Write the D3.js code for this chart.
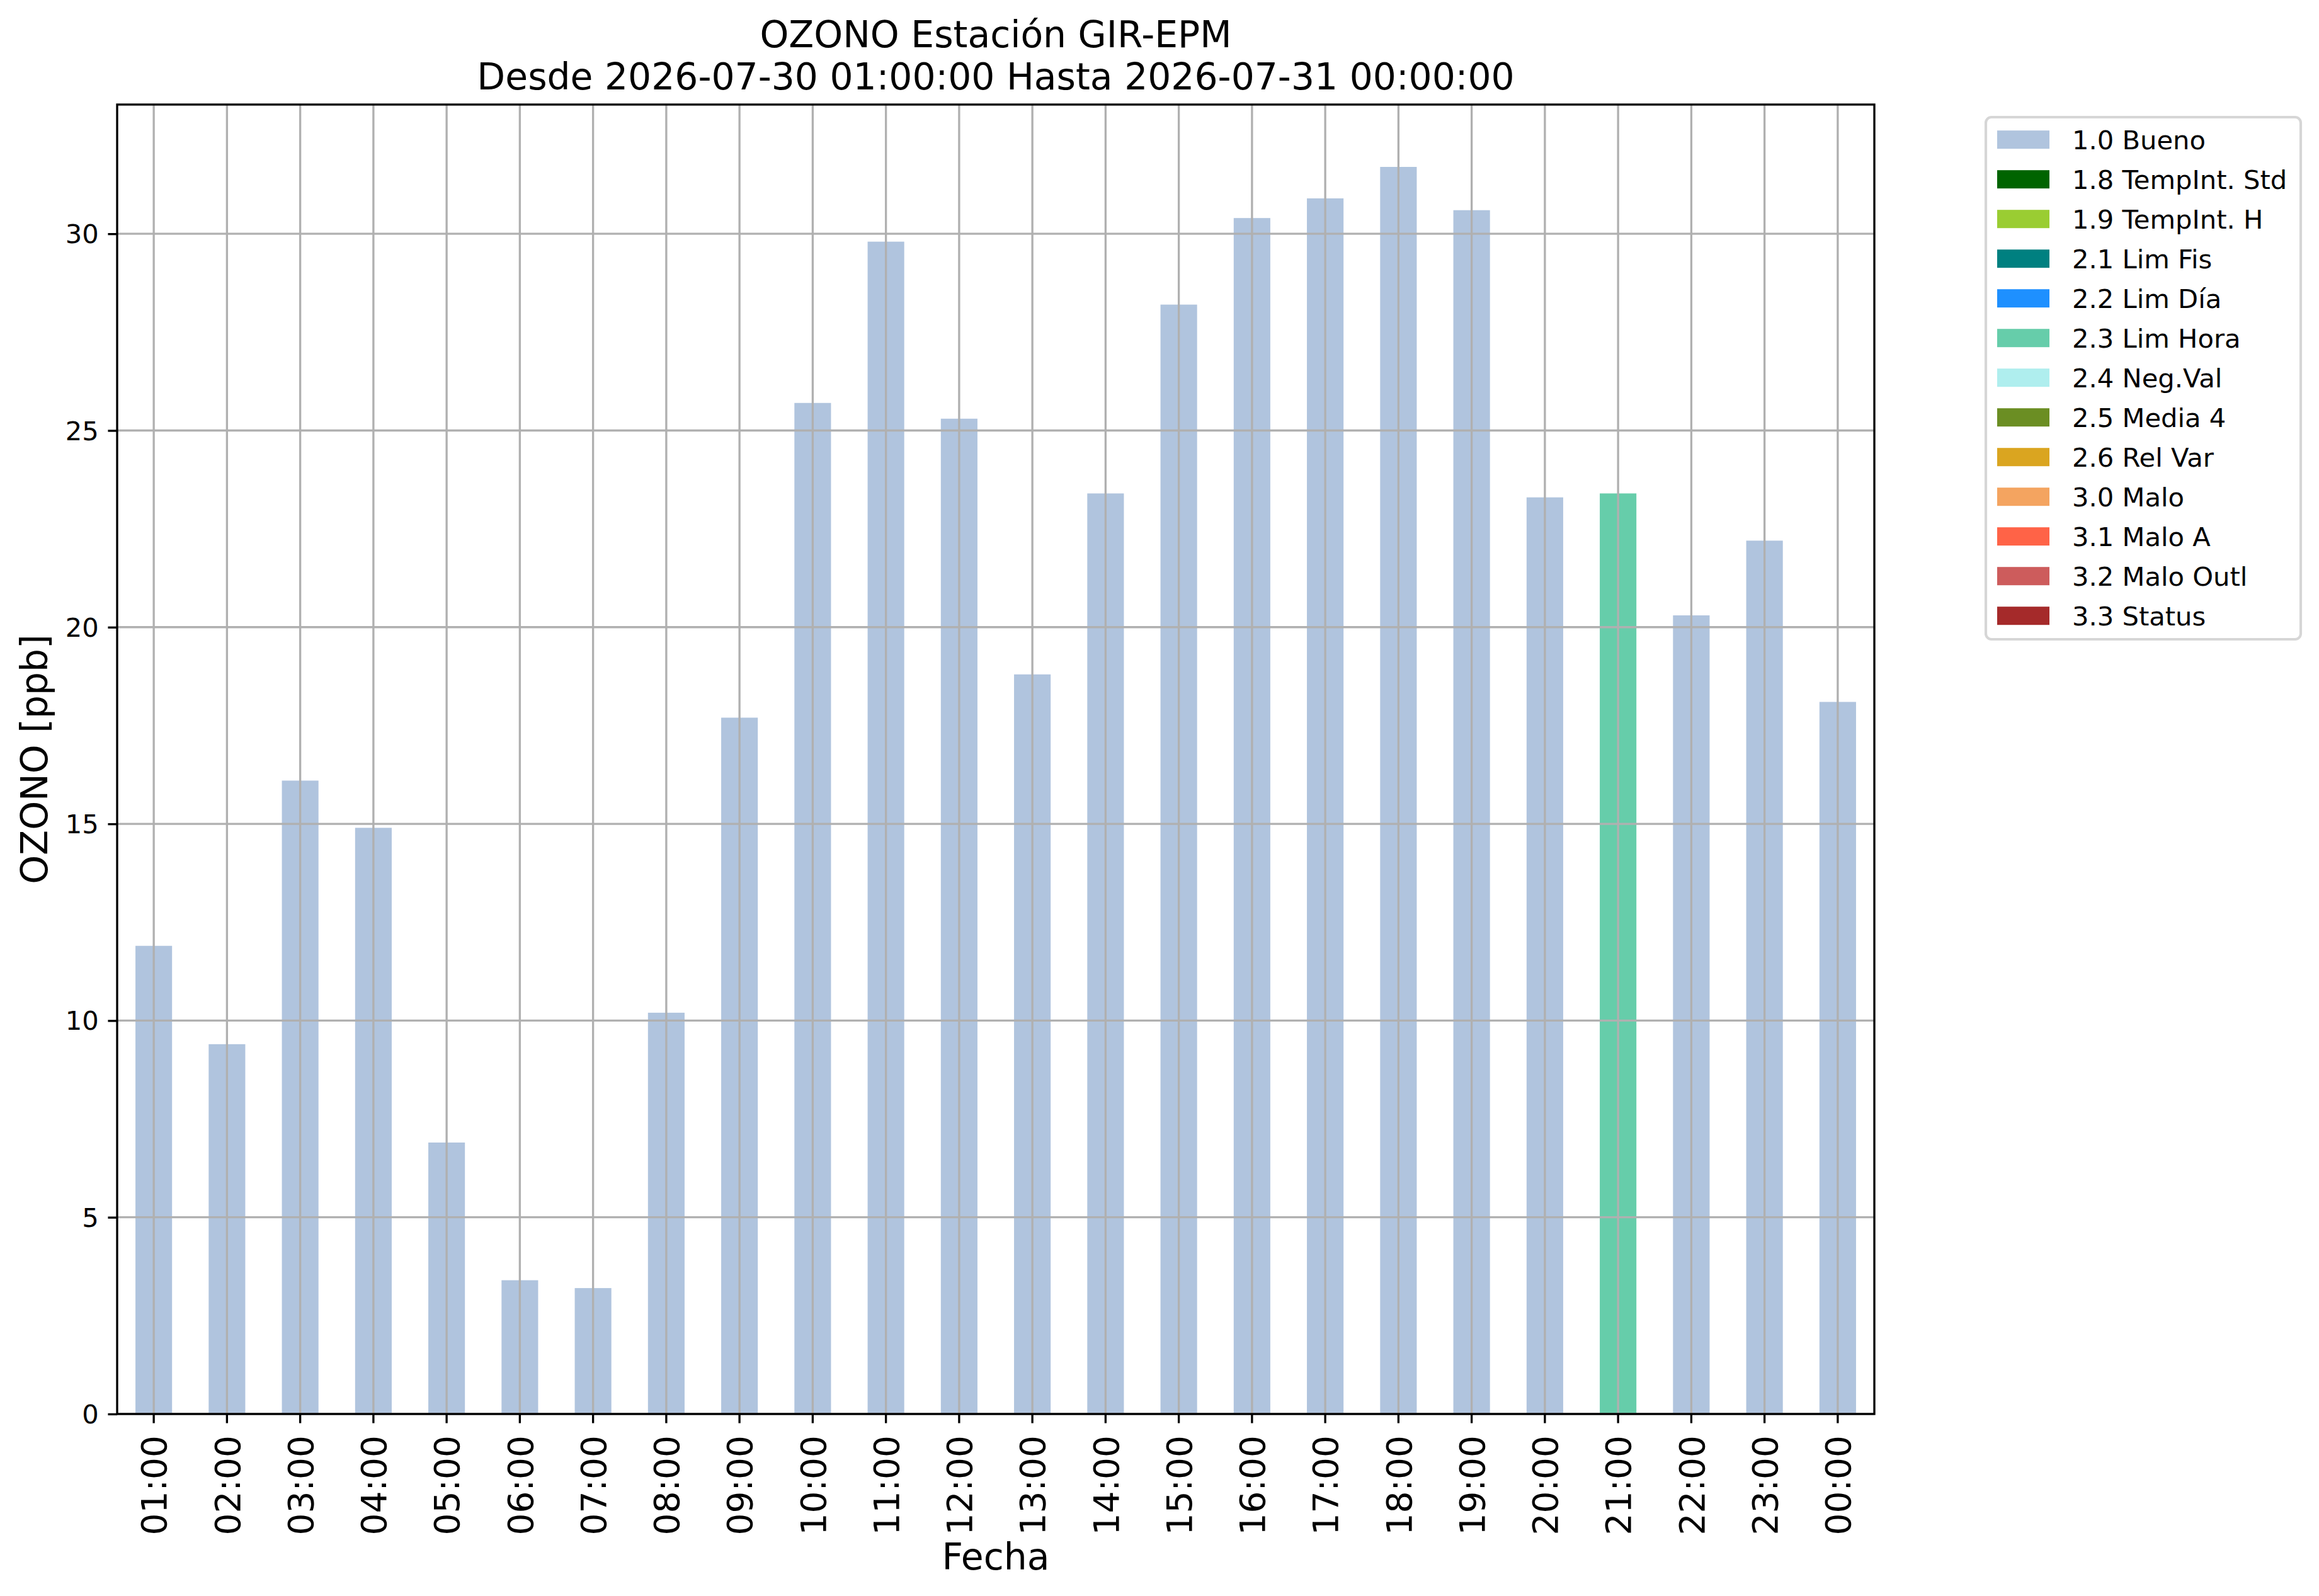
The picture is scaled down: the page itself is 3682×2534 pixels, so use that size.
<!DOCTYPE html>
<html>
<head>
<meta charset="utf-8">
<script src="https://cdn.jsdelivr.net/npm/d3@7"></script>
<style>
  body { margin: 0; background: #ffffff; }
  svg text { font-family: "DejaVu Sans", sans-serif; fill: #000000; }
</style>
</head>
<body>
<div id="chart"></div>
<script>
// hours on the x axis
const hours = ["01:00","02:00","03:00","04:00","05:00","06:00","07:00","08:00","09:00","10:00","11:00","12:00",
               "13:00","14:00","15:00","16:00","17:00","18:00","19:00","20:00","21:00","22:00","23:00","00:00"];
// OZONO [ppb] per hour
const values = [11.9, 9.4, 16.1, 14.9, 6.9, 3.4, 3.2, 10.2, 17.7, 25.7, 29.8, 25.3,
                18.8, 23.4, 28.2, 30.4, 30.9, 31.7, 30.6, 23.3, 23.4, 20.3, 22.2, 18.1];
// quality flag per hour
const flags = ["1.0","1.0","1.0","1.0","1.0","1.0","1.0","1.0","1.0","1.0","1.0","1.0",
               "1.0","1.0","1.0","1.0","1.0","1.0","1.0","1.0","2.3","1.0","1.0","1.0"];
// legend categories and colours
const flagCodes  = ["1.0","1.8","1.9","2.1","2.2","2.3","2.4","2.5","2.6","3.0","3.1","3.2","3.3"];
const flagNames  = ["1.0 Bueno","1.8 TempInt. Std","1.9 TempInt. H","2.1 Lim Fis","2.2 Lim Día","2.3 Lim Hora",
                    "2.4 Neg.Val","2.5 Media 4","2.6 Rel Var","3.0 Malo","3.1 Malo A","3.2 Malo Outl","3.3 Status"];
const flagColors = ["#b0c4de","#006400","#9acd32","#008080","#1e90ff","#66cdaa",
                    "#afeeee","#6b8e23","#daa520","#f4a460","#ff6347","#cd5c5c","#a52a2a"];
const yTicks = [0, 5, 10, 15, 20, 25, 30];

const W = 3682, H = 2534;
const mLeft = 186, mRight = 2976, mTop = 166, mBottom = 2245;
const pt = 300 / 72;

const data = hours.map(function(h, i) { return {hour: h, value: values[i], flag: flags[i]}; });

const svg = d3.select("#chart").append("svg")
    .attr("width", W).attr("height", H);

const x = d3.scaleBand()
    .domain(hours)
    .range([mLeft, mRight])
    .paddingInner(0.5)
    .paddingOuter(0.25);

const y = d3.scaleLinear()
    .domain([0, d3.max(values) * 1.05])
    .range([mBottom, mTop]);

const color = d3.scaleOrdinal().domain(flagCodes).range(flagColors);

// bars
svg.selectAll(".bar")
    .data(data)
  .enter().append("rect")
    .attr("class", "bar")
    .attr("x", function(d) { return x(d.hour); })
    .attr("width", x.bandwidth())
    .attr("y", function(d) { return y(d.value); })
    .attr("height", function(d) { return y(0) - y(d.value); })
    .attr("fill", function(d) { return color(d.flag); });

// grid (drawn over the bars like matplotlib)
svg.selectAll(".vgrid")
    .data(hours)
  .enter().append("line")
    .attr("x1", function(d) { return x(d) + x.bandwidth() / 2; })
    .attr("x2", function(d) { return x(d) + x.bandwidth() / 2; })
    .attr("y1", mTop).attr("y2", mBottom)
    .attr("stroke", "#b0b0b0")
    .attr("stroke-width", 0.8 * pt);

svg.selectAll(".hgrid")
    .data(yTicks)
  .enter().append("line")
    .attr("x1", mLeft).attr("x2", mRight)
    .attr("y1", function(d) { return y(d); })
    .attr("y2", function(d) { return y(d); })
    .attr("stroke", "#b0b0b0")
    .attr("stroke-width", 0.8 * pt);

// y axis ticks
const yAxis = svg.append("g")
    .attr("transform", "translate(" + mLeft + ",0)")
    .call(d3.axisLeft(y).tickValues(yTicks).tickSize(3.5 * pt).tickPadding(3.5 * pt));
yAxis.select(".domain").remove();
yAxis.selectAll(".tick line").attr("stroke", "#000").attr("stroke-width", 0.8 * pt);
yAxis.selectAll(".tick text")
    .attr("font-family", "DejaVu Sans")
    .attr("font-size", 10 * pt)
    .attr("dy", "0.35em");

// x axis ticks, rotated
const xAxis = svg.append("g")
    .attr("transform", "translate(0," + mBottom + ")")
    .call(d3.axisBottom(x).tickSize(3.5 * pt).tickPadding(0));
xAxis.select(".domain").remove();
xAxis.selectAll(".tick line").attr("stroke", "#000").attr("stroke-width", 0.8 * pt);
xAxis.selectAll(".tick text")
    .attr("font-family", "DejaVu Sans")
    .attr("font-size", 55)
    .attr("text-anchor", "end")
    .attr("x", 0).attr("y", 0).attr("dy", "0.37em")
    .attr("transform", "translate(0,34) rotate(-90)");

// spines
svg.append("rect")
    .attr("x", mLeft).attr("y", mTop)
    .attr("width", mRight - mLeft).attr("height", mBottom - mTop)
    .attr("fill", "none")
    .attr("stroke", "#000")
    .attr("stroke-width", 0.8 * pt);

// titles and axis labels
const title = svg.append("text")
    .attr("text-anchor", "middle")
    .attr("font-size", 14 * pt);
title.append("tspan").attr("x", (mLeft + mRight) / 2).attr("y", 75).text("OZONO Estación GIR-EPM");
title.append("tspan").attr("x", (mLeft + mRight) / 2).attr("y", 142).text("Desde 2026-07-30 01:00:00 Hasta 2026-07-31 00:00:00");

svg.append("text")
    .attr("x", (mLeft + mRight) / 2).attr("y", 2492)
    .attr("text-anchor", "middle")
    .attr("font-size", 14 * pt)
    .text("Fecha");

svg.append("text")
    .attr("transform", "translate(75," + ((mTop + mBottom) / 2) + ") rotate(-90)")
    .attr("text-anchor", "middle")
    .attr("font-size", 14 * pt)
    .text("OZONO [ppb]");

// legend
const lg = svg.append("g");
lg.append("rect")
    .attr("x", 3153).attr("y", 186)
    .attr("width", 500).attr("height", 829)
    .attr("rx", 9).attr("ry", 9)
    .attr("fill", "#ffffff")
    .attr("stroke", "#d6d6d6")
    .attr("stroke-width", 1 * pt);

const row = d3.scalePoint().domain(flagCodes).range([221.7, 221.7 + 63 * 12]);

lg.selectAll(".lpatch")
    .data(flagCodes)
  .enter().append("rect")
    .attr("x", 3171)
    .attr("y", function(d) { return row(d) - 14.5; })
    .attr("width", 83).attr("height", 29)
    .attr("fill", function(d) { return color(d); });

lg.selectAll(".ltext")
    .data(flagCodes)
  .enter().append("text")
    .attr("x", 3290)
    .attr("y", function(d) { return row(d); })
    .attr("dy", "0.36em")
    .attr("font-size", 10 * pt)
    .text(function(d, i) { return flagNames[i]; });
</script>
</body>
</html>
